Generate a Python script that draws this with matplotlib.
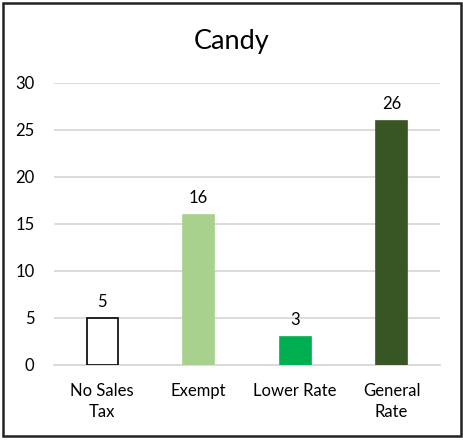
import matplotlib.pyplot as plt
from matplotlib.patches import Rectangle

categories = ['No Sales\nTax', 'Exempt', 'Lower Rate', 'General\nRate']
counts = [5, 16, 3, 26]
fills = ['white', '#A9D18E', '#00B050', '#375623']
edges = ['black', '#A9D18E', '#00B050', '#375623']

plt.rcParams['font.family'] = ['Lato', 'DejaVu Sans']

fig = plt.figure(figsize=(4.64, 4.40), dpi=100)
ax = fig.add_axes([0.1164, 0.1705, 0.8316, 0.641])

x = range(len(categories))
ax.bar(x, counts, width=0.32, color=fills, edgecolor=edges, linewidth=1.2, zorder=3)
for xi, v in zip(x, counts):
    ax.annotate(str(v), (xi, v), xytext=(0, 6), textcoords='offset points',
                ha='center', va='bottom', fontsize=12, color='black')

ax.set_xlim(-0.5, 3.5)
ax.set_ylim(0, 30)
ax.set_yticks(range(0, 31, 5))
ax.set_xticks(list(x))
ax.set_xticklabels(categories, fontsize=12, linespacing=1.35)
ax.tick_params(axis='y', length=0, pad=14, labelsize=12)
ax.tick_params(axis='x', length=0, pad=13)
for lbl in ax.get_yticklabels():
    lbl.set_horizontalalignment('right')

ax.grid(axis='y', color='#D9D9D9', linewidth=1.3, zorder=0)
for side in ['top', 'right', 'left']:
    ax.spines[side].set_visible(False)
ax.spines['bottom'].set_color('#D9D9D9')
ax.spines['bottom'].set_linewidth(1.3)

fig.text(0.5, 0.905, 'Candy', ha='center', va='center', fontsize=19.5)

# outer frame
fig.patches.append(Rectangle((0.006, 0.008), 0.988, 0.985, transform=fig.transFigure,
                             fill=False, edgecolor='#222222', linewidth=1.8))

fig.savefig('out.png', dpi=100)
